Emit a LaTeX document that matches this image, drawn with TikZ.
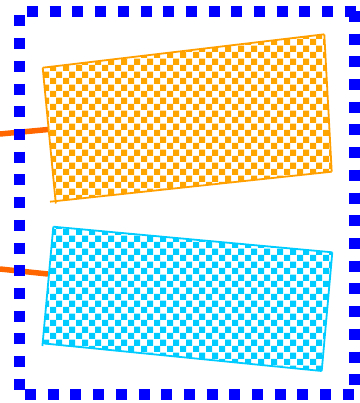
\documentclass[tikz,border=0pt]{standalone}
\usetikzlibrary{patterns}
\definecolor{patorange}{RGB}{255,165,0}
\definecolor{edgeorange}{RGB}{255,160,0}
\definecolor{linkorange}{RGB}{255,102,0}
\definecolor{patcyan}{RGB}{0,204,255}
\definecolor{framblue}{RGB}{0,0,255}
\pgfdeclarepatternformonly{bigchecker}{\pgfpointorigin}{\pgfqpoint{12.6pt}{12.6pt}}{\pgfqpoint{12.6pt}{12.6pt}}{%
  \pgfpathrectangle{\pgfpointorigin}{\pgfqpoint{6.35pt}{6.35pt}}%
  \pgfpathrectangle{\pgfqpoint{6.3pt}{6.3pt}}{\pgfqpoint{6.3pt}{6.3pt}}%
  \pgfusepath{fill}}
\tikzset{
  link/.style={draw=linkorange, line width=5.5pt},
  framedash/.style={draw=framblue, line width=11pt, dash pattern=on 11pt off 11.7pt},
  orangefill/.style={pattern=bigchecker, pattern color=patorange},
  cyanfill/.style={pattern=bigchecker, pattern color=patcyan},
  orangeedge/.style={draw=edgeorange, line width=1.8pt},
  cyanedge/.style={draw=patcyan, line width=1.8pt},
}
\begin{document}
\begin{tikzpicture}[x=1pt,y=-1pt]
\useasboundingbox (0,0) rectangle (359,403);
% corners of orange box
\coordinate (oTL) at (42.7,67.7);
\coordinate (oTR) at (324.3,34.3);
\coordinate (oBR) at (331.7,171.7);
\coordinate (oBL) at (55.2,201.5);
\coordinate (oBLx) at (50,201.7);
\coordinate (oLe) at (55.8,203.5);
% corners of cyan box
\coordinate (cTL) at (53.3,226.7);
\coordinate (cTR) at (332.3,252.3);
\coordinate (cBR) at (321.7,371);
\coordinate (cBL) at (43,344);
\coordinate (cBLx) at (44.5,343.5);
\coordinate (cLe) at (42.4,346);
% connector free ends
\coordinate (l1) at (0,134);
\coordinate (l1e) at (48.2,129.5);
\coordinate (l2) at (0,269);
\coordinate (l2e) at (48,274);
% connectors
\draw[link] (l1) -- (l1e);
\draw[link] (l2) -- (l2e);
% boxes
\fill[orangefill] (oTL) -- (oTR) -- (oBR) -- (oBL) -- cycle;
\draw[orangeedge] (oTL) -- (oTR);
\draw[orangeedge] (oTR) -- (oBR);
\draw[orangeedge] (oBR) -- (oBLx);
\draw[orangeedge] (oTL) -- (oLe);
\fill[cyanfill] (cTL) -- (cTR) -- (cBR) -- (cBL) -- cycle;
\draw[cyanedge] (cTL) -- (cTR);
\draw[cyanedge] (cTR) -- (cBR);
\draw[cyanedge] (cBR) -- (cBLx);
\draw[cyanedge] (cTL) -- (cLe);
% frame
\coordinate (fT1) at (27,11.5);
\coordinate (fT2) at (356,11.5);
\coordinate (fL1) at (19.5,15.5);
\coordinate (fL2) at (19.5,390);
\coordinate (fR1) at (354,11);
\coordinate (fR2) at (354,385);
\coordinate (fB1) at (25,394.5);
\coordinate (fB2) at (355,394.5);
\draw[framedash] (fT1) -- (fT2);
\draw[framedash] (fL1) -- (fL2);
\draw[framedash] (fR1) -- (fR2);
\draw[framedash] (fB1) -- (fB2);
\end{tikzpicture}
\end{document}
